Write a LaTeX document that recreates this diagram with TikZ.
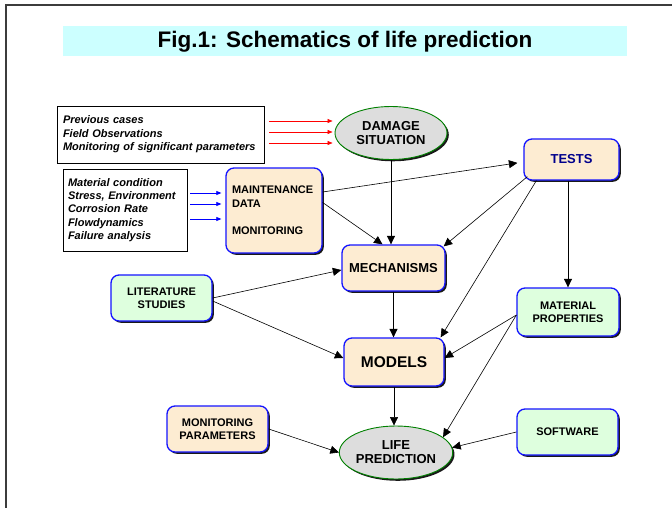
\documentclass[tikz,border=0pt]{standalone}
\usepackage{fontspec}
\setmainfont{Liberation Sans}
\usetikzlibrary{shapes.geometric,shadows,arrows.meta,calc}
\definecolor{peach}{RGB}{253,236,210}
\definecolor{mint}{RGB}{222,255,222}
\definecolor{ellgray}{RGB}{221,221,221}
\definecolor{ellgreen}{RGB}{0,128,0}
\definecolor{titlecyan}{RGB}{204,255,255}
\definecolor{boxblue}{RGB}{20,20,255}
\definecolor{navytext}{RGB}{0,0,140}
\definecolor{framecol}{RGB}{60,60,60}
\begin{document}
\begin{tikzpicture}[x=1pt,y=-1pt,
  shad/.style={drop shadow={shadow xshift=1.8pt,shadow yshift=-1.8pt,opacity=1,fill=black!90}},
  rbox/.style={rectangle,rounded corners=8pt,draw=boxblue,line width=1.3pt,shad,inner sep=0pt,align=center,font=\bfseries\fontsize{11}{13}\selectfont},
  pbox/.style={rbox,fill=peach},
  gbox/.style={rbox,fill=mint},
  ell/.style={ellipse,draw=ellgreen,line width=0.9pt,fill=ellgray,shad,inner sep=0pt,align=center,minimum width=112pt,minimum height=53pt,font=\bfseries\fontsize{13}{14}\selectfont},
  tbox/.style={rectangle,draw=black,line width=0.8pt,fill=white,inner sep=0pt,align=left,font=\bfseries\itshape\fontsize{11}{13.4}\selectfont},
  arr/.style={-{Triangle[length=8.5pt,width=8pt]},line width=0.6pt},
  redarr/.style={-{Triangle[length=5pt,width=4pt]},red,line width=0.6pt},
  bluearr/.style={-{Triangle[length=5pt,width=4pt]},blue,line width=0.6pt}
]
\useasboundingbox (0,0) rectangle (672,508);
\draw[framecol,line width=1.3pt] (672,5) -- (6,5) -- (6,508);

\node[fill=titlecyan,minimum width=564pt,minimum height=30pt,inner sep=0pt,font=\bfseries\fontsize{22.5}{24}\selectfont] (title) at (345,41.5) {Fig.1: Schematics of life prediction};

\node[tbox,minimum width=207pt,minimum height=57pt,text width=195pt] (prev) at (160.5,134.5) {Previous cases\\Field Observations\\Monitoring of significant parameters};
\node[tbox,minimum width=124pt,minimum height=82pt,text width=114pt] (mat) at (125,210) {Material condition\\Stress, Environment\\Corrosion Rate\\Flowdynamics\\Failure analysis};

\node[ell] (dam) at (391,133) {DAMAGE\\SITUATION};
\node[pbox,align=left,minimum width=96pt,minimum height=85pt,text width=84pt,font=\bfseries\fontsize{11}{14}\selectfont] (maint) at (274,210.5) {MAINTENANCE\\DATA\\[13pt]MONITORING};
\node[pbox,minimum width=95pt,minimum height=41pt,text=navytext,font=\bfseries\fontsize{13}{15}\selectfont] (tests) at (571.5,159.5) {TESTS};
\node[pbox,minimum width=103pt,minimum height=46pt,font=\bfseries\fontsize{13}{15}\selectfont] (mech) at (393.5,268) {MECHANISMS};
\node[gbox,minimum width=101pt,minimum height=46pt] (lit) at (161.5,298) {LITERATURE\\STUDIES};
\node[pbox,minimum width=100pt,minimum height=48pt,font=\bfseries\fontsize{15.5}{17}\selectfont] (models) at (394,362) {MODELS};
\node[gbox,minimum width=102pt,minimum height=48pt] (matprop) at (568,312) {MATERIAL\\PROPERTIES};
\node[pbox,minimum width=101pt,minimum height=46pt] (monpar) at (217.5,429) {MONITORING\\PARAMETERS};
\node[ell] (life) at (396,452.5) {LIFE\\PREDICTION};
\node[gbox,minimum width=101pt,minimum height=46pt] (soft) at (567.5,432) {SOFTWARE};

% red arrows
\draw[redarr,shorten >=2pt] ([xshift=5pt,yshift=13.5pt]prev.east) coordinate (r1) -- (r1 -| dam.west);
\draw[redarr,shorten >=2pt] ([xshift=5pt,yshift=2.5pt]prev.east) coordinate (r2) -- (r2 -| dam.west);
\draw[redarr,shorten >=2pt] ([xshift=5pt,yshift=-8.5pt]prev.east) coordinate (r3) -- (r3 -| dam.west);
% blue arrows
\draw[bluearr,shorten >=4pt] ([xshift=3pt,yshift=17pt]mat.east) coordinate (b1) -- (b1 -| maint.west);
\draw[bluearr,shorten >=4pt] ([xshift=3pt,yshift=6pt]mat.east) coordinate (b2) -- (b2 -| maint.west);
\draw[bluearr,shorten >=4pt] ([xshift=3pt,yshift=-9pt]mat.east) coordinate (b3) -- (b3 -| maint.west);

% black arrows
\draw[arr] (dam.south) -- (dam.south |- mech.north);
\draw[arr,shorten >=6pt] ([yshift=18.5pt]maint.east) -- ([yshift=-2.5pt]tests.west);
\draw[arr] ([yshift=8pt]maint.east) -- ([xshift=-11pt]mech.north);
\draw[arr] ([xshift=4pt,yshift=4pt]tests.south west) -- ([xshift=-2pt,yshift=-2pt]mech.north east);
\draw[arr] ([xshift=13pt]tests.south west) -- ([xshift=-4pt]models.north east);
\draw[arr] (matprop.north |- tests.south) -- (matprop.north);
\draw[arr] (lit.east) -- ([yshift=-2pt]mech.west);
\draw[arr] ([yshift=-3pt]lit.east) -- ([yshift=4pt]models.west);
\draw[arr] (mech.south) -- (mech.south |- models.north);
\draw[arr] ([yshift=-3pt]matprop.west) -- ([yshift=4pt]models.east);
\draw[arr] ([yshift=-3pt]matprop.west) -- (life.18);
\draw[arr] (models.south) -- (models.south |- life.north);
\draw[arr] (monpar.east) -- (life.west);
\draw[arr] (soft.west) -- (life.5);
\end{tikzpicture}
\end{document}
